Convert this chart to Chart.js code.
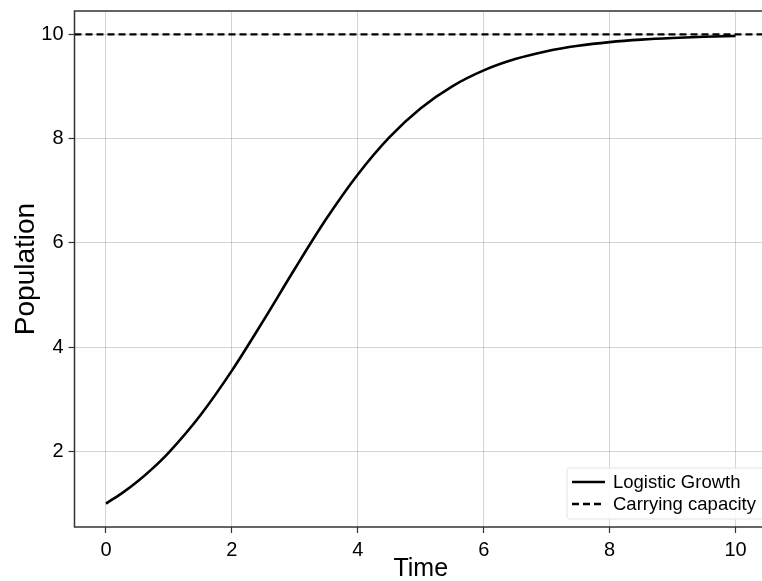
<!DOCTYPE html>
<html>
<head>
<meta charset="utf-8">
<script src="https://cdn.jsdelivr.net/npm/chart.js@4/dist/chart.umd.min.js"></script>
<style>
  html, body { margin: 0; padding: 0; background: #fff; overflow: hidden; }
  #wrap { position: relative; width: 770px; height: 581px; }
</style>
</head>
<body>
<div id="wrap"><canvas id="chart"></canvas></div>
<script>
/* ---------- DATA ---------- */
const times = [0, 0.25, 0.5, 0.75, 1, 1.5, 2, 2.5, 3, 3.5, 4, 4.5, 5, 5.5, 6, 6.5, 7, 7.5, 8, 8.5, 9, 9.5, 10];
const population = [1.000, 1.195, 1.422, 1.684, 1.983, 2.695, 3.550, 4.509, 5.505, 6.463, 7.314, 8.026, 8.585, 9.005, 9.310, 9.527, 9.678, 9.782, 9.853, 9.901, 9.933, 9.955, 9.970];
const capacityX = [-0.5, 10.5];
const capacityY = [10, 10];
const xTicks = [0, 2, 4, 6, 8, 10];
const yTicks = [2, 4, 6, 8, 10];
const seriesLabels = ["Logistic Growth", "Carrying capacity"];

const FONT = "'Liberation Sans', Arial, Helvetica, sans-serif";

/* ---------- PLUGINS ---------- */
const frame = {
  id: "frame",
  afterDatasetsDraw(chart) {
    const { ctx, chartArea: a } = chart;
    ctx.save();
    ctx.strokeStyle = "#333";
    ctx.lineWidth = 1.5;
    ctx.strokeRect(a.left, a.top, a.right - a.left, a.bottom - a.top);
    ctx.restore();
  }
};

const insideLegend = {
  id: "insideLegend",
  afterDraw(chart) {
    const { ctx, chartArea: a } = chart;
    const x = 567, w = 210, h = 51;
    const y = a.bottom - h - 8;
    ctx.save();
    ctx.fillStyle = "rgba(255,255,255,0.85)";
    ctx.strokeStyle = "#e3e3e3";
    ctx.lineWidth = 1;
    ctx.beginPath();
    ctx.roundRect(x, y, w, h, 3);
    ctx.fill();
    ctx.stroke();
    ctx.font = "18.5px " + FONT;
    ctx.textBaseline = "middle";
    chart.data.datasets.forEach((ds, i) => {
      const ly = y + 14 + i * 22;
      ctx.strokeStyle = "#000";
      ctx.lineWidth = 2.5;
      ctx.setLineDash(ds.borderDash || []);
      ctx.beginPath();
      ctx.moveTo(x + 5, ly);
      ctx.lineTo(x + 38, ly);
      ctx.stroke();
      ctx.setLineDash([]);
      ctx.fillStyle = "#000";
      ctx.fillText(ds.label, x + 46, ly + 1);
    });
    ctx.restore();
  }
};

/* ---------- CHART ---------- */
const gridOpts = {
  color: "rgba(0,0,0,0.17)",
  lineWidth: 1,
  borderDash: [1.5, 1.5],
  tickColor: "#333",
  tickLength: 6,
  tickBorderDash: [],
  tickWidth: 1.2
};

new Chart(document.getElementById("chart"), {
  type: "line",
  data: {
    datasets: [
      {
        label: seriesLabels[0],
        data: times.map((t, i) => ({ x: t, y: population[i] })),
        borderColor: "#000",
        borderWidth: 2.6,
        pointRadius: 0,
        cubicInterpolationMode: "monotone",
        fill: false
      },
      {
        label: seriesLabels[1],
        data: capacityX.map((t, i) => ({ x: t, y: capacityY[i] })),
        borderColor: "#000",
        borderWidth: 2.2,
        borderDash: [7, 4],
        pointRadius: 0,
        fill: false
      }
    ]
  },
  options: {
    responsive: true,
    maintainAspectRatio: false,
    animation: false,
    layout: { padding: { top: 11, right: 3, left: 0, bottom: 0 } },
    plugins: {
      legend: { display: false },
      tooltip: { enabled: false }
    },
    scales: {
      x: {
        type: "linear",
        min: -0.5,
        max: 10.5,
        afterBuildTicks: s => { s.ticks = xTicks.map(v => ({ value: v })); },
        afterFit: s => { s.height = 54; },
        grid: gridOpts,
        border: { display: false },
        ticks: {
          color: "#000",
          font: { family: FONT, size: 20 },
          padding: 5,
          maxRotation: 0
        },
        title: {
          display: true,
          text: "Time",
          color: "#000",
          font: { family: FONT, size: 25 },
          padding: { top: 0, bottom: -3 }
        }
      },
      y: {
        type: "linear",
        min: 0.55,
        max: 10.45,
        afterBuildTicks: s => { s.ticks = yTicks.map(v => ({ value: v })); },
        afterFit: s => {
          s.width = 74.5;
          s.paddingTop = 0;
          s.paddingBottom = 0;
        },
        grid: gridOpts,
        border: { display: false },
        ticks: {
          color: "#000",
          font: { family: FONT, size: 20 },
          padding: 5
        },
        title: {
          display: true,
          text: "Population",
          color: "#000",
          font: { family: FONT, size: 28 },
          padding: { top: 9, bottom: 0 }
        }
      }
    }
  },
  plugins: [frame, insideLegend]
});
</script>
</body>
</html>
